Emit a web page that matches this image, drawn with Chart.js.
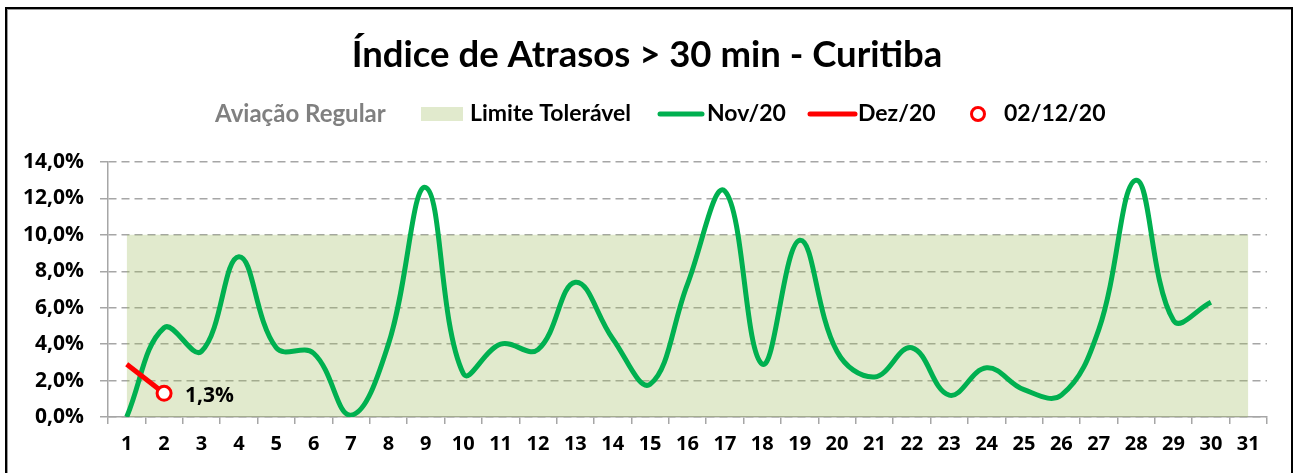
<!DOCTYPE html>
<html>
<head>
<meta charset="utf-8">
<title>Índice de Atrasos > 30 min - Curitiba</title>
<script src="https://cdn.jsdelivr.net/npm/chart.js@4.4.0/dist/chart.umd.min.js"></script>
<style>
    html, body { margin: 0; padding: 0; background: #fff; }
    #wrap { position: relative; width: 1294px; height: 473px; overflow: hidden; }
    #frame {
        position: absolute; left: 5px; top: 7px; width: 1288px; height: 500px;
        box-sizing: border-box; border: 2px solid #000; box-shadow: inset 1px 1px 0 #9a9a9a;
    }
    #chart { position: absolute; left: 0; top: 0; }
</style>
</head>
<body>
<div id="wrap">
    <div id="frame"></div>
    <canvas id="chart" width="1294" height="473"></canvas>
</div>
<script>
const days = ['1', '2', '3', '4', '5', '6', '7', '8', '9', '10', '11', '12', '13', '14', '15', '16',
              '17', '18', '19', '20', '21', '22', '23', '24', '25', '26', '27', '28', '29', '30', '31'];
const limite = [10, 10, 10, 10, 10, 10, 10, 10, 10, 10, 10, 10, 10, 10, 10, 10,
                10, 10, 10, 10, 10, 10, 10, 10, 10, 10, 10, 10, 10, 10, 10];
const nov20 = [0.0, 4.9, 3.6, 8.8, 3.8, 3.5, 0.1, 4.0, 12.6, 2.4, 4.0, 3.7, 7.4, 4.3, 1.8,
               7.3, 12.4, 2.9, 9.7, 3.6, 2.2, 3.8, 1.2, 2.7, 1.5, 1.2, 4.8, 13.0, 5.3, 6.3];
const dez20 = [2.9, 1.3];
const dia0212 = [null, 1.3];
const yTicks = [0, 2, 4, 6, 8, 10, 12, 14];

const fontFamily = 'Lato, "Open Sans", sans-serif';
const numFamily = '"Open Sans", "Noto Sans", sans-serif';
const axisGrey = '#a6a6a6';
const fmtPct = v => v.toFixed(1).replace('.', ',') + '%';

// legend drawn like the Excel one: grey caption first, then the series
const legendPlugin = {
    id: 'excelLegend',
    afterDraw(chart) {
        const ctx = chart.ctx;
        const ds = chart.data.datasets;
        const y = 114;
        ctx.save();
        ctx.textBaseline = 'middle';
        ctx.textAlign = 'left';

        ctx.fillStyle = '#808080';
        ctx.font = `bold 24px ${fontFamily}`;
        ctx.fillText('Aviação Regular', 215, y);
        ctx.font = `bold 23px ${fontFamily}`;

        ctx.fillStyle = ds[0].backgroundColor;
        ctx.fillRect(421, y - 7, 42, 14);
        ctx.fillStyle = '#000';
        ctx.fillText(ds[0].label, 470, y);

        ctx.lineWidth = 5;
        ctx.lineCap = 'round';
        ctx.strokeStyle = ds[1].borderColor;
        ctx.beginPath(); ctx.moveTo(660, y); ctx.lineTo(702, y); ctx.stroke();
        ctx.fillText(ds[1].label, 707, y);

        ctx.strokeStyle = ds[2].borderColor;
        ctx.beginPath(); ctx.moveTo(810, y); ctx.lineTo(855, y); ctx.stroke();
        ctx.fillText(ds[2].label, 858, y);

        ctx.lineWidth = 3;
        ctx.strokeStyle = ds[3].pointBorderColor;
        ctx.fillStyle = '#fff';
        ctx.beginPath(); ctx.arc(978, y, 6.5, 0, Math.PI * 2); ctx.fill(); ctx.stroke();
        ctx.fillStyle = '#000';
        ctx.fillText(ds[3].label, 1004, y);
        ctx.restore();
    }
};

// value label next to the 02/12/20 marker
const pointLabelPlugin = {
    id: 'pointLabel',
    afterDatasetsDraw(chart) {
        const ctx = chart.ctx;
        const meta = chart.getDatasetMeta(3);
        ctx.save();
        ctx.font = `bold 21px ${numFamily}`;
        ctx.fillStyle = '#000';
        ctx.textAlign = 'left';
        ctx.textBaseline = 'middle';
        meta.data.forEach((pt, i) => {
            const v = dia0212[i];
            if (v === null) return;
            ctx.fillText(fmtPct(v), pt.x + 21, pt.y + 3);
        });
        ctx.restore();
    }
};

const ctx = document.getElementById('chart').getContext('2d');
new Chart(ctx, {
    type: 'line',
    data: {
        labels: days,
        datasets: [
            {
                label: 'Limite Tolerável',
                data: limite,
                fill: 'origin',
                backgroundColor: 'rgba(155, 187, 89, 0.3)',
                borderWidth: 0,
                pointRadius: 0,
                tension: 0,
                order: 10
            },
            {
                label: 'Nov/20',
                data: nov20,
                borderColor: '#00b050',
                borderWidth: 5,
                pointRadius: 0,
                tension: 0.4,
                fill: false,
                order: 3
            },
            {
                label: 'Dez/20',
                data: dez20,
                borderColor: '#ff0000',
                borderWidth: 5,
                pointRadius: 0,
                tension: 0,
                fill: false,
                order: 2
            },
            {
                label: '02/12/20',
                data: dia0212,
                showLine: false,
                pointRadius: 7,
                pointBorderWidth: 3,
                pointBorderColor: '#ff0000',
                pointBackgroundColor: '#ffffff',
                order: 1
            }
        ]
    },
    options: {
        responsive: false,
        animation: false,
        events: [],
        layout: { padding: 0 },
        plugins: {
            legend: { display: false },
            tooltip: { enabled: false },
            title: {
                display: true,
                text: 'Índice de Atrasos > 30 min - Curitiba',
                color: '#000',
                font: { family: fontFamily, size: 36.5, weight: 'bold' },
                padding: { top: 33.1, bottom: 85.1 }
            }
        },
        scales: {
            x: {
                type: 'category',
                offset: true,
                grid: {
                    offset: true,
                    drawOnChartArea: false,
                    drawTicks: true,
                    tickLength: 7,
                    color: axisGrey,
                    lineWidth: 1.5
                },
                border: { display: true, color: axisGrey, width: 1.5 },
                ticks: {
                    color: '#000',
                    font: { family: numFamily, size: 20, weight: 'bold' },
                    padding: 8,
                    maxRotation: 0,
                    autoSkip: false
                },
                afterFit(scale) { scale.height = 56; }
            },
            y: {
                min: 0,
                max: 14,
                afterBuildTicks(scale) { scale.ticks = yTicks.map(v => ({ value: v })); },
                grid: {
                    color: axisGrey,
                    lineWidth: 1.5,
                    drawTicks: true,
                    tickLength: 8
                },
                border: { display: true, color: axisGrey, width: 1.5, dash: [8, 5] },
                ticks: {
                    color: '#000',
                    font: { family: numFamily, size: 21, weight: 'bold' },
                    padding: 16,
                    callback: v => fmtPct(v)
                },
                afterFit(scale) { scale.width = 108; }
            },
            // empty right-hand spacer so the title centres on the whole frame
            yRight: {
                position: 'right',
                min: 0,
                max: 14,
                grid: { display: false },
                border: { display: false },
                ticks: { display: false },
                afterFit(scale) { scale.width = 27; }
            }
        }
    },
    plugins: [pointLabelPlugin, legendPlugin]
});
</script>
</body>
</html>
